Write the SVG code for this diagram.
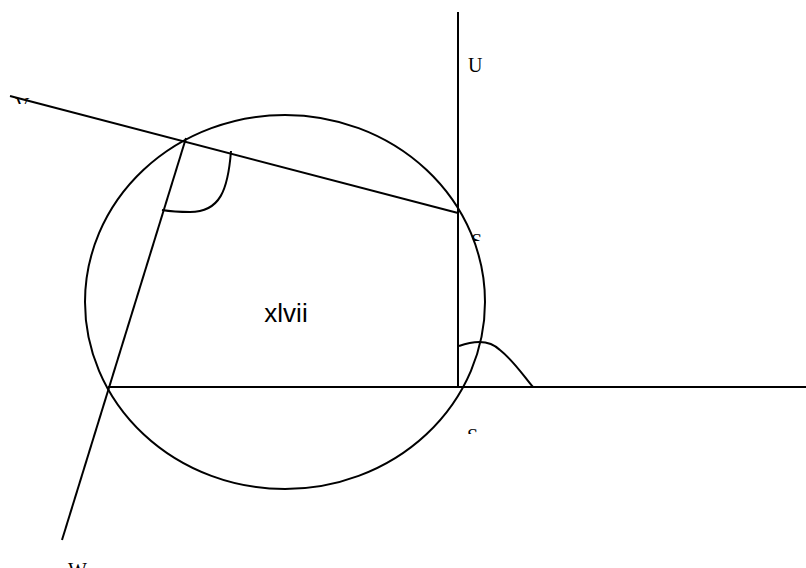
<svg xmlns="http://www.w3.org/2000/svg" width="806" height="568" viewBox="0 0 806 568">
<style>
.ln{stroke:#000;stroke-width:2;fill:none}
.lbl{font-family:"Liberation Serif",serif;font-size:20px;fill:#000}
.main{font-family:"Liberation Sans",Arial,sans-serif;font-size:26px;fill:#000}
</style>
<defs>
<clipPath id="cV"><rect x="0" y="0" width="60" height="104"/></clipPath>
<clipPath id="cS1"><rect x="460" y="200" width="40" height="41"/></clipPath>
<clipPath id="cS2"><rect x="460" y="400" width="40" height="34"/></clipPath>
</defs>
<g id="circle"><ellipse class="ln" cx="285" cy="302" rx="200" ry="187"/></g>
<g id="connectors">
<line class="ln" x1="10" y1="96" x2="458" y2="213"/>
<line class="ln" x1="458" y1="12" x2="458" y2="386"/>
<line class="ln" x1="108" y1="387" x2="806" y2="387"/>
<line class="ln" x1="186" y1="138" x2="62" y2="540"/>
<path class="ln" d="M231,151 C228,190 220,212 190,212 C175,212 168,211 162,210"/>
<path class="ln" d="M459,346 C470,342 488,338 500,350 C515,362 525,378 533,387"/>
</g>
<g id="labels">
<text class="main" x="286" y="322" text-anchor="middle">xlvii</text>
<text class="lbl" x="15" y="112" clip-path="url(#cV)">V</text>
<text class="lbl" x="468" y="72">U</text>
<text class="lbl" x="471" y="248" clip-path="url(#cS1)">S</text>
<text class="lbl" x="467" y="443" clip-path="url(#cS2)">S</text>
<text class="lbl" x="68" y="577">W</text>
</g>
</svg>
